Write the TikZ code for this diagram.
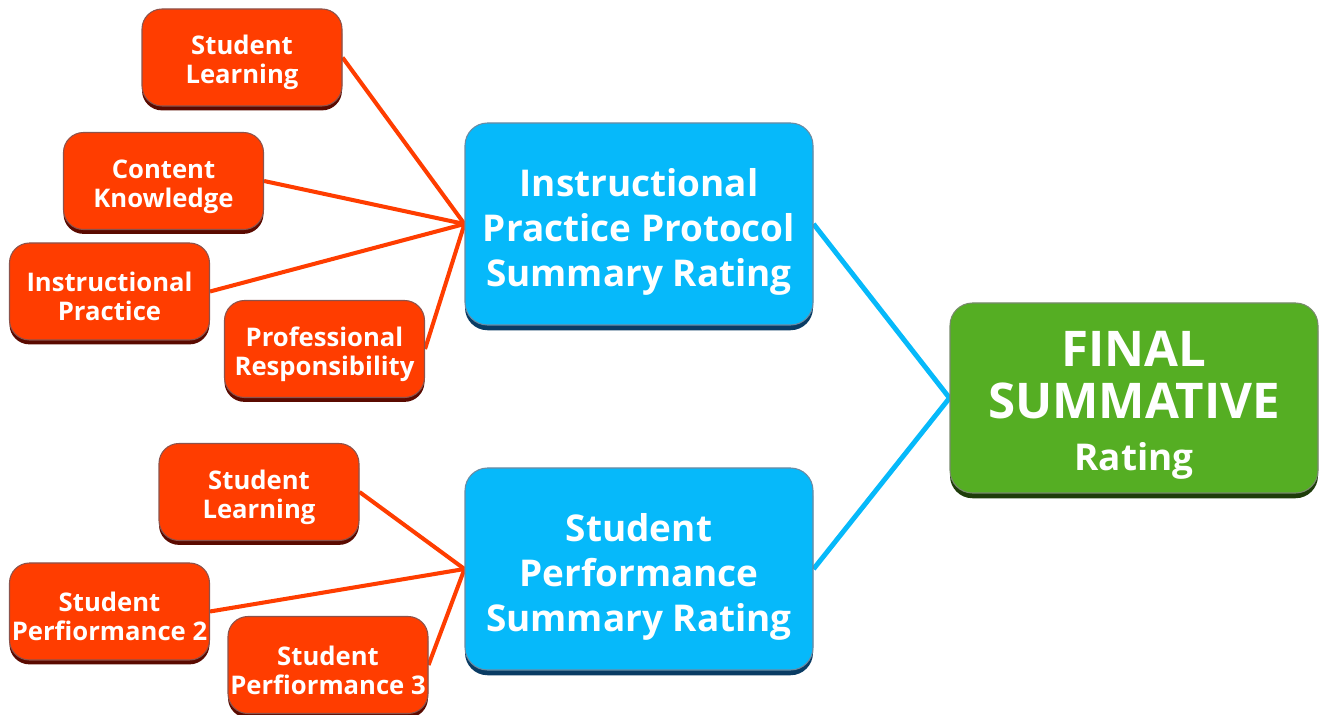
\documentclass[tikz,border=0pt]{standalone}
\usepackage{fontspec}
\setmainfont{Open Sans}
\usetikzlibrary{positioning, shadows, backgrounds}
\definecolor{rateorange}{RGB}{255, 61, 0}
\definecolor{rateblue}{RGB}{6, 185, 250}
\definecolor{rategreen}{RGB}{85, 174, 35}
\definecolor{orangedark}{RGB}{90, 10, 0}
\definecolor{bluedark}{RGB}{10, 60, 100}
\definecolor{greendark}{RGB}{30, 60, 10}

\begin{document}
\begin{tikzpicture}[
    part/.style={rectangle, rounded corners=0.4cm, minimum width=4cm, minimum height=1.94cm, inner xsep=1pt, align=center, text=white, fill=rateorange, draw=orangedark!70, line width=0.6pt, font=\bfseries\fontsize{14.6}{16.5}\selectfont, text height=33.6pt, drop shadow={shadow xshift=0pt, shadow yshift=-2.5pt, fill=orangedark, opacity=1}},
    summary/.style={rectangle, rounded corners=0.45cm, minimum width=6.96cm, minimum height=4.04cm, align=center, text=white, fill=rateblue, draw=bluedark!60, line width=0.6pt, font=\bfseries\fontsize{21}{25.6}\selectfont, text height=76pt, drop shadow={shadow xshift=0pt, shadow yshift=-3pt, fill=bluedark, opacity=1}},
    final/.style={rectangle, rounded corners=0.45cm, minimum width=7.36cm, minimum height=3.8cm, align=center, text=white, fill=rategreen, draw=greendark!60, line width=0.6pt, font=\bfseries\fontsize{28}{29.6}\selectfont, text height=88pt, drop shadow={shadow xshift=0pt, shadow yshift=-3pt, fill=greendark, opacity=1}},
    link/.style={line width=2.3pt, rateorange},
    bluelink/.style={line width=2.8pt, rateblue}
]
\useasboundingbox (0,0) rectangle (26.38,-14.3);

% Summary ratings
\node[summary] (ippr) at (12.78,-4.48) {Instructional\\Practice Protocol\\Summary Rating};
\node[summary] (spsr) at (12.78,-11.38) {Student\\Performance\\Summary Rating};

% Final rating
\node[final] (fsr) at (22.68,-7.96) {FINAL\\SUMMATIVE\\{\fontsize{21}{29.6}\selectfont Rating}};

% Protocol parts
\node[part] (sl1) at (4.84,-1.15) {Student\\Learning};
\node[part] (ck) at (3.27,-3.62) {Content\\Knowledge};
\node[part] (ip) at (2.19,-5.83) {Instructional\\Practice};
\node[part] (pr) at (6.49,-6.98) {Professional\\Responsibility};

% Performance parts
\node[part] (sl2) at (5.18,-9.84) {Student\\Learning};
\node[part] (sp2) at (2.19,-12.23) {Student\\Perfiormance 2};
\node[part] (sp3) at (6.56,-13.3) {Student\\Perfiormance 3};

% Links
\begin{scope}[on background layer]
\draw[link] (sl1.east) -- (ippr.west);
\draw[link] (ck.east) -- (ippr.west);
\draw[link] (ip.east) -- (ippr.west);
\draw[link] (pr.east) -- (ippr.west);
\draw[link] (sl2.east) -- (spsr.west);
\draw[link] (sp2.east) -- (spsr.west);
\draw[link] (sp3.east) -- (spsr.west);
\draw[bluelink] (ippr.east) -- (fsr.west);
\draw[bluelink] (spsr.east) -- (fsr.west);
\end{scope}
\end{tikzpicture}
\end{document}
